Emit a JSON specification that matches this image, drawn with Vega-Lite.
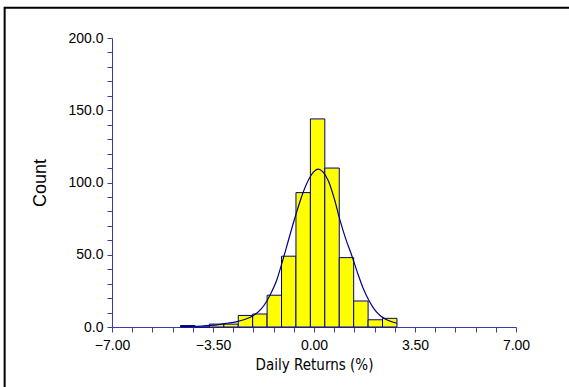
{
  "$schema": "https://vega.github.io/schema/vega-lite/v6.json",
  "width": 404,
  "height": 289,
  "autosize": {"type": "none"},
  "padding": {"left": 112, "top": 38, "right": 53, "bottom": 60},
  "background": "white",
  "config": {
    "view": {"stroke": null},
    "font": "Liberation Sans",
    "axis": {
      "grid": false,
      "domainColor": "#3c3ca8",
      "tickColor": "#3c3ca8",
      "tickSize": 5,
      "tickCount": 40,
      "labelColor": "black",
      "titleColor": "black",
      "labelFont": "Liberation Sans",
      "labelFontSize": 14,
      "titleFontWeight": "normal",
      "labelOverlap": false,
      "labelBound": false,
      "labelFlush": false
    }
  },
  "datasets": {
    "frame": [{"x1": -10.72, "x2": 40, "y1": 221, "y2": -200}],
    "bins": [
      {"start": -4.625, "end": -4.125, "count": 1},
      {"start": -4.125, "end": -3.625, "count": 0},
      {"start": -3.625, "end": -3.125, "count": 2},
      {"start": -3.125, "end": -2.625, "count": 2},
      {"start": -2.625, "end": -2.125, "count": 8},
      {"start": -2.125, "end": -1.625, "count": 9},
      {"start": -1.625, "end": -1.125, "count": 22},
      {"start": -1.125, "end": -0.625, "count": 49},
      {"start": -0.625, "end": -0.125, "count": 93},
      {"start": -0.125, "end": 0.375, "count": 144},
      {"start": 0.375, "end": 0.875, "count": 110},
      {"start": 0.875, "end": 1.375, "count": 48},
      {"start": 1.375, "end": 1.875, "count": 18},
      {"start": 1.875, "end": 2.375, "count": 5},
      {"start": 2.375, "end": 2.875, "count": 6}
    ],
    "curve": [
      {"x": -4.63, "y": 0.2},
      {"x": -4.25, "y": 0.4},
      {"x": -3.9, "y": 0.7},
      {"x": -3.6, "y": 1.1},
      {"x": -3.3, "y": 1.7},
      {"x": -3.0, "y": 2.6},
      {"x": -2.7, "y": 3.6},
      {"x": -2.4, "y": 5.2},
      {"x": -2.1, "y": 8.0},
      {"x": -1.85, "y": 12},
      {"x": -1.65, "y": 17.5},
      {"x": -1.5, "y": 23},
      {"x": -1.3, "y": 32},
      {"x": -1.1, "y": 45},
      {"x": -0.9, "y": 59},
      {"x": -0.7, "y": 73},
      {"x": -0.5, "y": 86},
      {"x": -0.3, "y": 97},
      {"x": -0.1, "y": 105},
      {"x": 0.05, "y": 108.5},
      {"x": 0.15, "y": 109.3},
      {"x": 0.3, "y": 107.5},
      {"x": 0.5, "y": 101},
      {"x": 0.7, "y": 89},
      {"x": 0.9, "y": 74},
      {"x": 1.1, "y": 61},
      {"x": 1.3, "y": 50},
      {"x": 1.5, "y": 38},
      {"x": 1.7, "y": 27},
      {"x": 1.9, "y": 18.5},
      {"x": 2.1, "y": 12},
      {"x": 2.3, "y": 7.8},
      {"x": 2.5, "y": 5.2},
      {"x": 2.7, "y": 3.6},
      {"x": 2.875, "y": 2.6}
    ]
  },
  "layer": [
    {
      "data": {"name": "bins"},
      "mark": {"type": "rect", "fill": "#ffff00", "stroke": "#000080", "strokeWidth": 1},
      "encoding": {
        "x": {
          "field": "start", "type": "quantitative",
          "scale": {"domain": [-7, 7], "nice": false, "zero": false},
          "axis": {
            "title": "Daily Returns (%)",
            "titleFont": "Liberation Sans Narrow, DejaVu Sans Condensed, Liberation Sans",
            "titleFontSize": 15,
            "values": [-7, -6.3, -5.6, -4.9, -4.2, -3.5, -2.8, -2.1, -1.4, -0.7, 0, 0.7, 1.4, 2.1, 2.8, 3.5, 4.2, 4.9, 5.6, 6.3, 7],
            "labelExpr": "abs(datum.value / 3.5 - round(datum.value / 3.5)) < 0.001 ? format(datum.value, '.2f') : ''",
            "labelPadding": 6,
            "titlePadding": 5
          }
        },
        "x2": {"field": "end"},
        "y": {
          "field": "count", "type": "quantitative",
          "scale": {"domain": [0, 200], "nice": false},
          "axis": {
            "title": "Count",
            "titleFont": "Liberation Sans",
            "titleFontSize": 18,
            "values": [0, 10, 20, 30, 40, 50, 60, 70, 80, 90, 100, 110, 120, 130, 140, 150, 160, 170, 180, 190, 200],
            "labelExpr": "abs(datum.value / 50 - round(datum.value / 50)) < 0.001 ? format(datum.value, '.1f') : ''",
            "labelPadding": 4,
            "titlePadding": 18
          }
        },
        "y2": {"datum": 0}
      }
    },
    {
      "data": {"name": "curve"},
      "mark": {"type": "line", "color": "#000080", "strokeWidth": 1.2, "interpolate": "monotone"},
      "encoding": {
        "x": {"field": "x", "type": "quantitative"},
        "y": {"field": "y", "type": "quantitative"}
      }
    },
    {
      "data": {"name": "frame"},
      "mark": {"type": "rect", "fill": null, "stroke": "black", "strokeWidth": 2, "clip": false},
      "encoding": {
        "x": {"field": "x1", "type": "quantitative"},
        "x2": {"field": "x2"},
        "y": {"field": "y1", "type": "quantitative"},
        "y2": {"field": "y2"}
      }
    }
  ]
}
